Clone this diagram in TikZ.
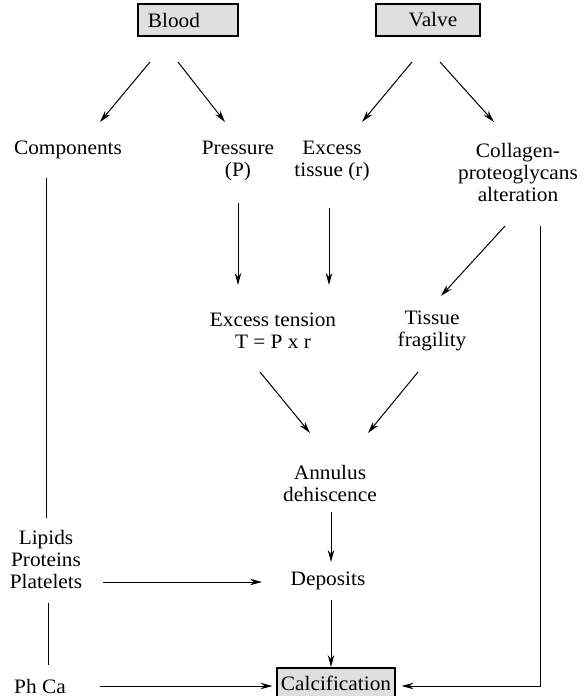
\documentclass[tikz,border=0pt]{standalone}
\usepackage{fontspec}
\setmainfont{Liberation Serif}[FakeStretch=1.04]
\usetikzlibrary{arrows.meta,calc}
\begin{document}
\begin{tikzpicture}[x=1pt,y=-1pt,
  txt/.style={inner sep=0pt,align=center,font=\fontsize{20.5}{22}\selectfont},
  hbox/.style={draw=black,line width=1.1pt,fill=gray!25,inner sep=0pt,font=\fontsize{20.5}{22}\selectfont},
  arr/.style={line width=1pt,-{Stealth[length=12pt,width=6.5pt]}},
  ln/.style={line width=1pt}]
\useasboundingbox (0,0) rectangle (585,696);
% boxes
\node[hbox,minimum width=100pt,minimum height=32pt] (blood) at (188,20) {Blood\hspace*{28pt}};
\node[hbox,minimum width=104pt,minimum height=32pt] (valve) at (428,20) {\hspace*{10pt}Valve};
\node[hbox,minimum width=118pt,minimum height=30pt] (calc) at (336,683) {Calcification};
% texts
\node[txt] (comp) at (68,150) {Components};
\node[txt] (press) at (238,161) {Pressure\\(P)};
\node[txt] (tissue) at (332,161) {Excess\\tissue (r)};
\node[txt] (coll) at (518,172) {Collagen-\\proteoglycans\\alteration};
\node[txt] (tension) at (273,331) {Excess tension\\T = P x r};
\node[txt] (frag) at (432,331) {Tissue\\fragility};
\node[txt] (annulus) at (330,483) {Annulus\\dehiscence};
\node[txt] (lipids) at (46,559) {Lipids\\Proteins\\Platelets};
\node[txt] (deposits) at (328,581) {Deposits};
\node[txt] (phca) at (40,686) {Ph Ca};
% connectors
\draw[arr] ($(blood)+(-38,42)$) -- ($(comp)+(32,-28)$);
\draw[arr] ($(blood)+(-10,42)$) -- ($(press)+(-13,-39)$);
\draw[arr] ($(valve)+(-16,42)$) -- ($(tissue)+(30,-39)$);
\draw[arr] ($(valve)+(12,42)$) -- ($(coll)+(-24,-50)$);
\draw[arr] ($(press)+(0,42)$) -- ($(press)+(0,124)$);
\draw[arr] ($(tissue)+(-3,47)$) -- ($(tissue)+(-3,124)$);
\draw[arr] ($(coll)+(-13,54)$) -- ($(frag)+(9,-35)$);
\draw[arr] ($(tension)+(-13,41)$) -- ($(annulus)+(-20,-50)$);
\draw[arr] ($(frag)+(-14,41)$) -- ($(annulus)+(38,-50)$);
\draw[arr] ($(annulus)+(1,29)$) -- ($(deposits)+(3,-19)$);
\draw[arr] ($(deposits)+(3,19)$) -- ($(deposits)+(3,86)$);
\draw[ln] ($(comp)+(-22,28)$) -- ($(lipids)+(0,-41)$);
\draw[ln] ($(lipids)+(2,44)$) -- ($(phca)+(8,-21)$);
\draw[arr] ($(lipids)+(57,23)$) -- ($(deposits)+(-66,1)$);
\draw[arr] ($(phca)+(60,0)$) -- ($(calc.west |- phca)+(-4,0)$);
\draw[arr] ($(coll)+(22,54)$) |- ($(calc.east)+(6,3)$);
\end{tikzpicture}
\end{document}
